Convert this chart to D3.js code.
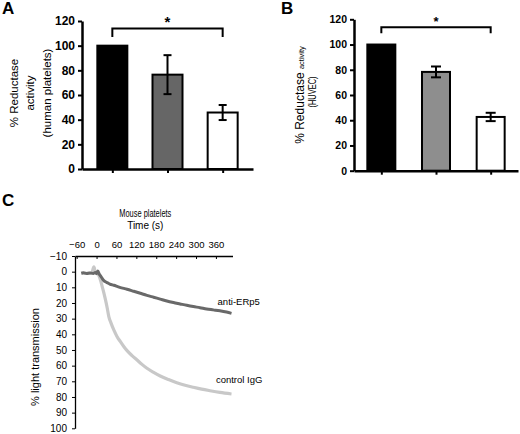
<!DOCTYPE html>
<html>
<head>
<meta charset="utf-8">
<script src="https://cdn.jsdelivr.net/npm/d3@7"></script>
<style>
  body { margin: 0; background: #fff; }
  svg { display: block; font-family: "Liberation Sans", Arial, sans-serif; }
</style>
</head>
<body>
<svg id="fig" width="520" height="434"></svg>
<script>
// bar panels (A, B)
const groups = ["control", "treatment 1", "treatment 2"];
const barTicks = [0, 20, 40, 60, 80, 100, 120];
const valuesA = [100, 76.5, 45.8];
const errorsA = [0, 15.8, 6.1];
const valuesB = [100, 78.3, 42.6];
const errorsB = [0, 4.3, 3.3];

// aggregation panel (C)
const timeTicks = [-60, 0, 60, 120, 180, 240, 300, 360];
const transTicks = [-10, 0, 10, 20, 30, 40, 50, 60, 70, 80, 90, 100];
const timeAnti = [-46, -40, -30, -20, -10, -4, 0, 4, 8, 12, 17, 22, 27, 32, 40, 52, 70, 92, 112, 132,
  152, 172, 192, 212, 232, 252, 272, 292, 312, 332, 352, 372, 392, 407];
const valAnti = [1, 0.7, 1.2, 0.8, 1.1, 0.6, 1.3, -0.5, 1.5, 2.7, 4.3, 5.7, 6.5, 7, 7.9, 8.7, 10, 11.2, 12.5, 13.8,
  15.1, 16.3, 17.5, 18.7, 19.7, 20.6, 21.5, 22.3, 23, 23.8, 24.4, 25, 25.8, 26.6];
const timeCtrl = [-46, -30, -15, -8, -4, 0, 4, 8, 12, 17, 22, 27, 32, 37, 44, 52, 62, 72, 82, 92,
  107, 122, 137, 152, 172, 192, 217, 242, 267, 292, 317, 342, 372, 407];
const valCtrl = [1, 1, 1, -3, 0, 1, 1.5, 3, 5.5, 9.5, 13.5, 18, 23, 28.7, 33, 37.2, 41.5, 44.7, 47.8, 50.4,
  53.6, 56.4, 59.2, 61.7, 64.3, 66.6, 68.9, 70.9, 72.5, 73.8, 75, 76, 77.1, 78.1];

const svg = d3.select("#fig");

const drawBars = (cfg) => {
  const g = svg.append("g");
  const x = d3.scalePoint().domain(groups).range([cfg.x0, cfg.x1]).padding(cfg.pad);
  const y = d3.scaleLinear().domain([0, 120]).range([cfg.y0, cfg.y1]);

  g.append("g")
      .attr("transform", `translate(${cfg.x0},0)`)
      .call(d3.axisLeft(y).tickValues(barTicks).tickSize(4).tickSizeOuter(0).tickPadding(3))
      .call(a => a.select(".domain").attr("stroke-width", 2.5))
      .call(a => a.selectAll(".tick line").attr("stroke-width", 2))
      .call(a => a.selectAll("text")
        .attr("font-family", cfg.tickFont)
        .attr("font-size", cfg.tickSize)
        .attr("font-weight", "bold")
        .attr("fill", "#000"));

  g.append("g")
      .attr("transform", `translate(0,${y(0)})`)
      .call(d3.axisBottom(x).tickSize(4).tickSizeOuter(0).tickFormat(""))
      .call(a => a.select(".domain").attr("stroke-width", 2.5))
      .call(a => a.selectAll(".tick line").attr("stroke-width", 2));

  g.selectAll("rect.bar")
    .data(groups)
    .join("rect")
      .attr("class", "bar")
      .attr("x", d => x(d) - cfg.bw / 2)
      .attr("width", cfg.bw)
      .attr("y", (d, i) => y(cfg.values[i]))
      .attr("height", (d, i) => y(0) - y(cfg.values[i]))
      .attr("fill", (d, i) => cfg.colors[i])
      .attr("stroke", "#000")
      .attr("stroke-width", 2);

  const err = groups.map((d, i) => ({g: d, v: cfg.values[i], e: cfg.errors[i]})).filter(d => d.e > 0);
  const eg = g.selectAll("g.err").data(err).join("g")
      .attr("stroke", "#000").attr("stroke-width", 2);
  eg.append("line")
      .attr("x1", d => x(d.g)).attr("x2", d => x(d.g))
      .attr("y1", d => y(d.v - d.e)).attr("y2", d => y(d.v + d.e));
  eg.selectAll("line.cap")
    .data(d => [d.v - d.e, d.v + d.e].map(v => ({g: d.g, v})))
    .join("line")
      .attr("class", "cap")
      .attr("x1", d => x(d.g) - cfg.cap).attr("x2", d => x(d.g) + cfg.cap)
      .attr("y1", d => y(d.v)).attr("y2", d => y(d.v));

  const a0 = x(groups[0]), a1 = x(groups[2]);
  g.append("path")
      .attr("fill", "none").attr("stroke", "#000").attr("stroke-width", 2)
      .attr("d", `M${a0},${y(cfg.tip)}V${y(cfg.top)}H${a1}V${y(cfg.tip)}`);
  g.append("text")
      .attr("x", x(groups[1]))
      .attr("y", y(cfg.top) - 1)
      .attr("text-anchor", "middle")
      .attr("font-weight", "bold")
      .attr("font-size", cfg.starSize)
      .text("*");
  return g;
};

// Panel A
const gA = drawBars({
  x0: 82, x1: 253, y0: 169, y1: 21, pad: 0.55, bw: 30, cap: 4,
  values: valuesA, errors: errorsA, colors: ["#000", "#666", "#fff"],
  tip: 107, top: 114, starSize: 15,
  tickFont: '"Liberation Sans", Arial, sans-serif', tickSize: 12
});
gA.append("text")
    .attr("transform", "translate(48,93) rotate(-90)")
    .attr("text-anchor", "middle")
    .attr("font-size", 11.5)
    .call(t => {
      t.append("tspan").attr("x", 0).attr("dy", "-2.65em").text("% Reductase");
      t.append("tspan").attr("x", 0).attr("dy", "1.45em").text("activity");
      t.append("tspan").attr("x", 0).attr("dy", "1.45em").text("(human platelets)");
    });

// Panel B
const gB = drawBars({
  x0: 354, x1: 518, y0: 170.7, y1: 19.3, pad: 0.5, bw: 28, cap: 5,
  values: valuesB, errors: errorsB, colors: ["#000", "#8e8e8e", "#fff"],
  tip: 109, top: 113.6, starSize: 13,
  tickFont: '"Liberation Sans Narrow", "Arial Narrow", "Liberation Sans", Arial, sans-serif', tickSize: 10.5
});
gB.append("text")
    .attr("transform", "translate(304,95) rotate(-90)")
    .attr("text-anchor", "middle")
    .call(t => {
      t.append("tspan").attr("font-size", 12).text("% Reductase ");
      t.append("tspan").attr("font-size", 7.5).text("activity");
    });
gB.append("text")
    .attr("transform", "translate(315.5,92) rotate(-90)")
    .attr("text-anchor", "middle")
    .attr("font-size", 10.5)
    .attr("textLength", 31)
    .attr("lengthAdjust", "spacingAndGlyphs")
    .text("(HUVEC)");

// Panel C
const gC = svg.append("g");
const xC = d3.scaleLinear().domain([-65, 410]).range([75, 232.5]);
const yC = d3.scaleLinear().domain([-10, 100]).range([256, 428.3]);

gC.append("g")
    .attr("transform", `translate(0,${yC(-10)})`)
    .call(d3.axisTop(xC).tickValues(timeTicks).tickSize(-3).tickSizeOuter(0).tickPadding(8))
    .call(a => a.select(".domain").attr("stroke-width", 1.3))
    .call(a => a.selectAll("text").attr("font-size", 9.5).attr("fill", "#000"));

gC.append("g")
    .attr("transform", `translate(${xC(-65)},0)`)
    .call(d3.axisLeft(yC).tickValues(transTicks).tickSize(3).tickSizeOuter(0).tickPadding(5))
    .call(a => a.select(".domain").attr("stroke-width", 1.3))
    .call(a => a.selectAll("text").attr("font-size", 10).attr("fill", "#000"));

const line = d3.line()
    .x(d => xC(d[0]))
    .y(d => yC(d[1]))
    .curve(d3.curveMonotoneX);

gC.append("path")
    .datum(d3.zip(timeCtrl, valCtrl))
    .attr("fill", "none")
    .attr("stroke", "#c8c8c8")
    .attr("stroke-width", 3.2)
    .attr("d", line);
gC.append("path")
    .datum(d3.zip(timeAnti, valAnti))
    .attr("fill", "none")
    .attr("stroke", "#696969")
    .attr("stroke-width", 3)
    .attr("d", line);

gC.append("text").attr("x", xC(365)).attr("y", yC(21)).attr("font-size", 9.5).text("anti-ERp5");
gC.append("text").attr("x", xC(360)).attr("y", yC(71)).attr("font-size", 9.5).text("control IgG");

gC.append("text")
    .attr("x", xC(147))
    .attr("y", 217)
    .attr("text-anchor", "middle")
    .attr("font-size", 10.5)
    .attr("textLength", 52)
    .attr("lengthAdjust", "spacingAndGlyphs")
    .text("Mouse platelets");
gC.append("text")
    .attr("x", xC(147))
    .attr("y", 229)
    .attr("text-anchor", "middle")
    .attr("font-size", 10)
    .text("Time (s)");
gC.append("text")
    .attr("transform", "translate(39,357) rotate(-90)")
    .attr("text-anchor", "middle")
    .attr("font-size", 11)
    .text("% light transmission");

// panel letters
[["A", 2, 14], ["B", 281, 14], ["C", 2, 206]].forEach(([t, px, py]) =>
  svg.append("text").attr("x", px).attr("y", py)
    .attr("font-size", 17).attr("font-weight", "bold").text(t));
</script>
</body>
</html>
